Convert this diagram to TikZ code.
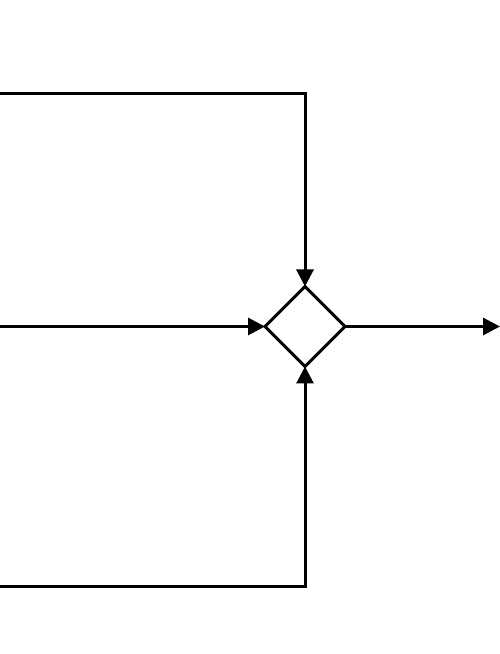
\documentclass[tikz,border=0pt]{standalone}
\usetikzlibrary{shapes.geometric,arrows.meta}
\begin{document}
\begin{tikzpicture}[x=1pt,y=1pt,
  flow/.style={line width=3pt,-{Triangle[length=17pt,width=17pt]}},
  gate/.style={diamond,draw,line width=3pt,inner sep=0pt,outer sep=0pt,minimum width=80pt,minimum height=80pt}]
\useasboundingbox (0,0) rectangle (500,654);
\node[gate] (d) at (305,327.5) {};
\coordinate (t0) at (0,560);
\coordinate (t1) at (305,560);
\coordinate (m0) at (0,327.5);
\coordinate (b0) at (0,67);
\coordinate (b1) at (305,67);
\coordinate (out) at (500,327.5);
\draw[flow,line join=miter] (t0) -- (t1) -- (d.north);
\draw[flow] (m0) -- (d.west);
\draw[flow,line join=miter] (b0) -- (b1) -- (d.south);
\draw[flow] (d.east) -- (out);
\end{tikzpicture}
\end{document}
